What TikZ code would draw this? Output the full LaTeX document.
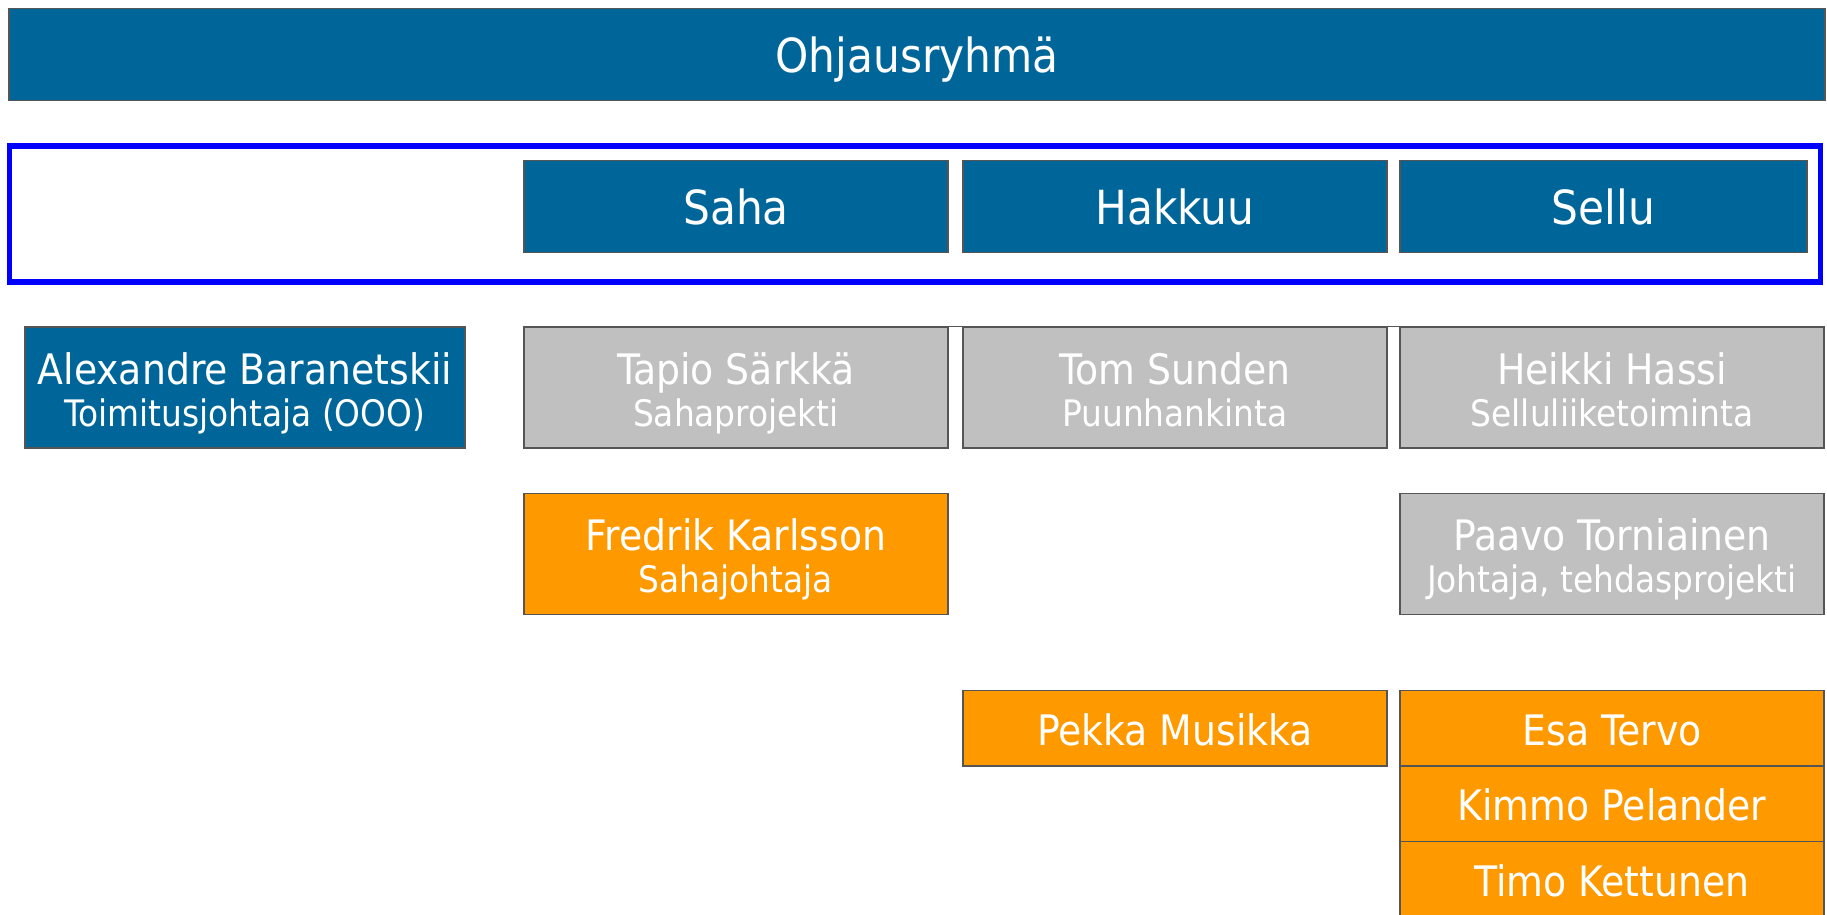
\documentclass[tikz,border=0pt]{standalone}
\usepackage{fontspec}
\setmainfont{DejaVu Sans Condensed}

\definecolor{orgBlue}{RGB}{0,102,153}
\definecolor{orgGray}{RGB}{192,192,192}
\definecolor{orgOrange}{RGB}{255,153,0}
\definecolor{orgEdge}{RGB}{85,85,85}
\definecolor{frameBlue}{RGB}{0,0,255}

\newcommand{\headFont}{\fontsize{47}{47}\selectfont}
\newcommand{\nameFont}{\fontsize{42}{42}\selectfont}
\newcommand{\roleFont}{\fontsize{36.5}{42}\selectfont}

\begin{document}
\begin{tikzpicture}[x=1pt, y=-1pt,
    box/.style={draw=orgEdge, line width=1.5pt, text=white, inner sep=0pt, align=center},
    headBox/.style={box, fill=orgBlue, minimum height=92pt, font=\headFont,
        text height=42pt, text depth=6pt},
    personBox/.style={box, minimum width=424pt, minimum height=121pt, font=\nameFont,
        text height=87pt, text depth=10pt},
    grayBox/.style={personBox, fill=orgGray},
    orangeBox/.style={personBox, fill=orgOrange},
    rowBox/.style={box, fill=orgOrange, minimum width=424pt, minimum height=75.5pt, font=\nameFont,
        text height=40pt, text depth=6pt}
]
    \useasboundingbox (0,0) rectangle (1827,914);
    \clip (0,0) rectangle (1827,914);

    % Steering group
    \node[headBox, minimum width=1816pt] (ohjaus) at (917,54.5) {Ohjausryhmä};

    % Business areas inside the blue frame
    \draw[frameBlue, line width=5.5pt] (9.5,146) rectangle (1820.5,282);
    \node[headBox, minimum width=424pt] (saha) at (736,206.5) {Saha};
    \node[headBox, minimum width=424pt] (hakkuu) at (1175,206.5) {Hakkuu};
    \node[headBox, minimum width=407pt] (sellu) at (1603.5,206.5) {Sellu};

    % Managers
    \node[personBox, fill=orgBlue, minimum width=440pt] (baranetskii) at (245,387.5)
        {Alexandre Baranetskii\\\roleFont Toimitusjohtaja (OOO)};
    \node[grayBox] (sarkka) at (736,387.5) {Tapio Särkkä\\\roleFont Sahaprojekti};
    \node[grayBox] (sunden) at (1175,387.5) {Tom Sunden\\\roleFont Puunhankinta};
    \node[grayBox] (hassi) at (1612,387.5) {Heikki Hassi\\\roleFont Selluliiketoiminta};
    \coordinate (barL) at (932,326.5);
    \coordinate (barR) at (1448,326.5);
    \draw[orgEdge, line width=1.5pt] (barL) -- (barR);

    % Second level
    \node[orangeBox] (karlsson) at (736,554) {Fredrik Karlsson\\\roleFont Sahajohtaja};
    \node[grayBox] (torniainen) at (1612,554) {Paavo Torniainen\\\roleFont Johtaja, tehdasprojekti};

    % Team members
    \node[rowBox] (musikka) at (1175,728) {Pekka Musikka};
    \node[rowBox] (tervo) at (1612,728) {Esa Tervo};
    \node[rowBox] (pelander) at (1612,803.5) {Kimmo Pelander};
    \node[rowBox] (kettunen) at (1612,879) {Timo Kettunen};
\end{tikzpicture}
\end{document}
